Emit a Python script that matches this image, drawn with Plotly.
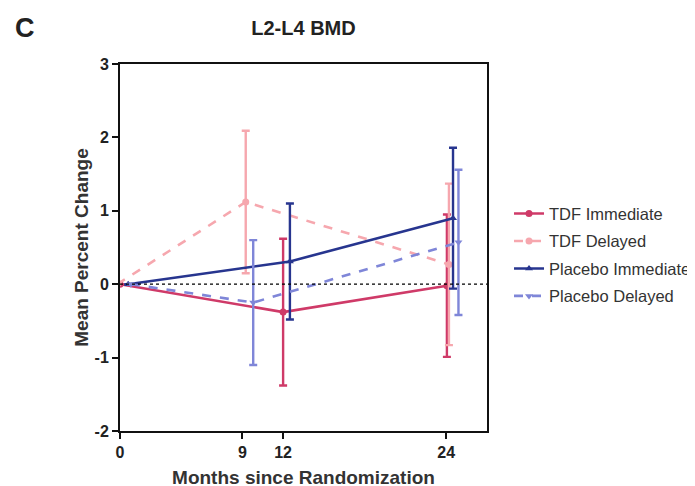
import plotly.graph_objects as go

# Data (x positions include the small horizontal nudges seen in the chart)
series_names = ["TDF Immediate", "TDF Delayed", "Placebo Immediate", "Placebo Delayed"]
tdf_imm_x = [0, 12.0, 24.05]
tdf_imm_y = [0, -0.38, -0.02]
tdf_imm_err = [0, 1.0, 0.97]

tdf_del_x = [-0.2, 9.25, 24.2]
tdf_del_y = [0, 1.12, 0.27]
tdf_del_err = [0, 0.97, 1.1]

pbo_imm_x = [0.6, 12.5, 24.5]
pbo_imm_y = [0, 0.31, 0.9]
pbo_imm_err = [0, 0.79, 0.96]

pbo_del_x = [0.8, 9.8, 24.9]
pbo_del_y = [0, -0.25, 0.57]
pbo_del_err = [0, 0.85, 0.99]

x_ticks = [0, 9, 12, 24]
y_ticks = [-2, -1, 0, 1, 2, 3]

colors = ["#cf3a68", "#f6a7ae", "#27358f", "#7f86d8"]
dashes = ["solid", "dash", "solid", "dash"]
symbols = ["circle", "circle", "triangle-up", "triangle-down"]
xs = [tdf_imm_x, tdf_del_x, pbo_imm_x, pbo_del_x]
ys = [tdf_imm_y, tdf_del_y, pbo_imm_y, pbo_del_y]
errs = [tdf_imm_err, tdf_del_err, pbo_imm_err, pbo_del_err]

L, T, PW, PH = 112, 56, 367, 367
W, H = 695, 486

fig = go.Figure()
# zero reference line
fig.add_shape(type="line", xref="paper", x0=0, x1=1, yref="y", y0=0, y1=0,
              line=dict(color="black", width=1.3, dash="dot"))

for i, (name, x, y, e, c, d, s) in enumerate(zip(series_names, xs, ys, errs, colors, dashes, symbols)):
    fig.add_trace(go.Scatter(
        x=x, y=y, name=name, mode="lines+markers", legendgroup=f"g{i}",
        line=dict(color=c, width=2.6, dash=d),
        marker=dict(color=c, size=7, symbol=s),
        error_y=dict(type="data", array=e, visible=True, color=c, thickness=2.4, width=4),
    ))

fig.update_layout(
    width=W, height=H,
    margin=dict(l=L, r=W - L - PW, t=T, b=H - T - PH, autoexpand=False),
    paper_bgcolor="white", plot_bgcolor="white",
    font=dict(family="Liberation Sans, Arial, sans-serif", color="#111"),
    title=dict(text="<b>L2-L4 BMD</b>", x=(L + PW / 2) / W, xanchor="center",
               y=1 - 20 / H, yanchor="middle", font=dict(size=20, color="#222")),
    showlegend=True,
    legend=dict(x=1.06, xanchor="left", y=0.48, yanchor="middle",
                font=dict(size=16.5, color="#333"), bgcolor="rgba(0,0,0,0)",
                tracegroupgap=3, itemwidth=30),
    xaxis=dict(range=[0, 27], tickvals=x_ticks, ticktext=[f"<b>{t}</b>" for t in x_ticks],
               showline=True, linecolor="#111", linewidth=2, mirror=True, automargin=False,
               ticks="outside", ticklen=6, tickwidth=2, tickcolor="#111",
               showgrid=False, zeroline=False, tickfont=dict(size=16, color="#222"),
               title=dict(text="<b>Months since Randomization</b>", font=dict(size=19, color="#333"), standoff=10)),
    yaxis=dict(range=[-2, 3], tickvals=y_ticks, ticktext=[f"<b>{t}</b>" for t in y_ticks],
               showline=True, linecolor="#111", linewidth=2, mirror=True, automargin=False,
               ticks="outside", ticklen=6, tickwidth=2, tickcolor="#111",
               showgrid=False, zeroline=False, tickfont=dict(size=16, color="#222"),
               title=dict(text="<b>Mean Percent Change</b>", font=dict(size=19, color="#333"), standoff=1)),
    annotations=[dict(text="<b>C</b>", xref="paper", yref="paper", x=(5 - L) / PW, y=1 + 36 / PH,
                      xanchor="left", yanchor="middle", showarrow=False,
                      font=dict(size=27, color="#222", family="Liberation Sans, Arial, sans-serif"))],
)

fig.write_html("out.html")
